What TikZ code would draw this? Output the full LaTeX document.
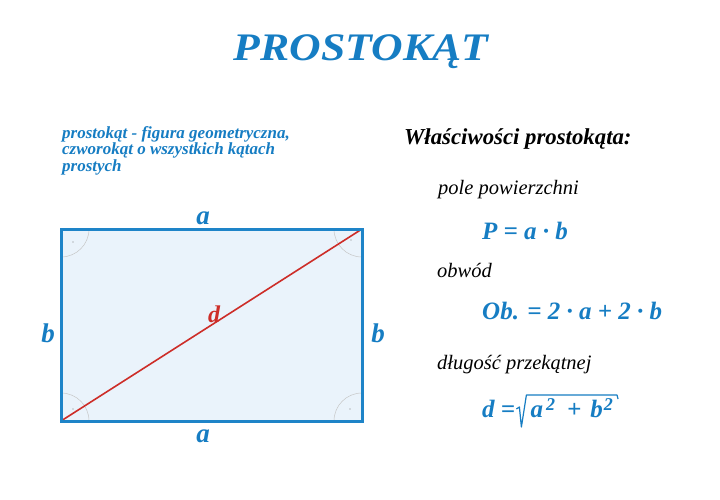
\documentclass[tikz,border=0pt]{standalone}
\usepackage{fontspec}
\setmainfont{Liberation Serif}
\usetikzlibrary{calc}
\definecolor{niebieski}{RGB}{22,125,195}
\definecolor{ramka}{RGB}{30,132,200}
\definecolor{wypelnienie}{RGB}{234,243,251}
\definecolor{czerwony}{RGB}{205,45,40}
\newcommand{\kwadrat}{\raisebox{7pt}{\fontsize{18}{18}\selectfont 2}}
\tikzset{
  tekst/.style={inner sep=0pt, anchor=base west, font=#1},
  wzor/.style={tekst=\fontsize{25}{28}\selectfont\bfseries\itshape, text=niebieski},
  opis/.style={tekst=\fontsize{20.5}{24}\selectfont\itshape, text=black},
  bok/.style={inner sep=0pt, anchor=base, text=niebieski,
    font=\fontsize{27}{30}\selectfont\bfseries\itshape},
  kat/.style={gray!45, line width=0.5pt}
}
\begin{document}
\begin{tikzpicture}[x=1pt,y=-1pt]
    \useasboundingbox[fill=white] (0,0) rectangle (720,500);
    % tytul
    \node[inner sep=0pt, anchor=base, xscale=1.12, text=niebieski, font=\fontsize{39}{42}\selectfont\bfseries\itshape] (tytul) at (361,61) {PROSTOKĄT};
    % definicja
    \node[inner sep=0pt, anchor=north west, text=niebieski, align=left, font=\fontsize{17}{15}\selectfont\bfseries\itshape] (definicja) at (62,126)
        {prostokąt - figura geometryczna,\\czworokąt o wszystkich kątach\\prostych};
    % prostokat
    \coordinate (A) at (61,421);
    \coordinate (B) at (362,421);
    \coordinate (C) at (362,229);
    \coordinate (D) at (61,229);
    \fill[wypelnienie] (A) rectangle (C);
    \begin{scope}
        \clip (A) rectangle (C);
        \foreach \r in {A,B,C,D}
            \draw[kat] (\r) circle (28pt);
    \end{scope}
    \foreach \p in {(73,242),(351,240),(73,409),(350,409)}
        \fill[gray] \p circle (0.6pt);
    \draw[czerwony, line width=1.6pt] (A) -- (C);
    \draw[ramka, line width=3pt] (A) -- (B) -- (C) -- (D) -- cycle;
    \node[bok] (gora) at (203,224) {a};
    \node[bok] (dol) at (203,442) {a};
    \node[bok] (lewy) at (48,342) {b};
    \node[bok] (prawy) at (378,342) {b};
    \node[bok, text=czerwony, font=\fontsize{24}{28}\selectfont\bfseries\itshape] (przekatna) at (214,322) {d};
    % wlasciwosci
    \node[tekst=\fontsize{22.8}{26}\selectfont\bfseries\itshape, text=black] (naglowek) at (404,145) {Właściwości prostokąta:};
    \node[opis] (pole) at (438,194) {pole powierzchni};
    \node[opis] (obwod) at (437,277) {obwód};
    \node[opis] (dlugosc) at (437,369) {długość przekątnej};
    \node[wzor] (wzorpole) at (482,239) {P = a · b};
    \node[wzor] (wzorobwod) at (482,319) {Ob. = 2 · a + 2 · b};
    \node[wzor] (dlug) at (482,417) {d =};
    \node[wzor, anchor=base west] (pierw) at ($(dlug.base east)+(15,0)$)
        {a\hspace{3pt}\kwadrat\hspace{12pt}+\hspace{9pt}b\hspace{1pt}\kwadrat};
    \draw[niebieski, line width=1.2pt, line join=round]
        ($(dlug.base east)+(1,-8)$) -- ++(3,-2) -- ($(dlug.base east)+(6,10)$)
        -- ($(dlug.base east)+(11,-22)$) -- ($(pierw.base east)+(4,-22)$) -- ++(1,4);
\end{tikzpicture}
\end{document}
